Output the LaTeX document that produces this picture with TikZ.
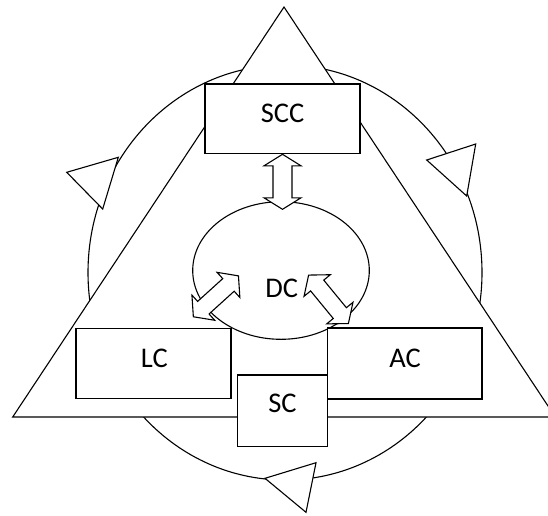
\documentclass[tikz,border=0pt]{standalone}
\usepackage{fontspec}
\setmainfont{Carlito}
\usetikzlibrary{shapes.geometric}
\begin{document}
\begin{tikzpicture}[x=1pt,y=-1pt,
  shp/.style={draw=black, fill=white, line width=1.1pt, line join=miter},
  box/.style={draw=black, fill=white, line width=1.1pt, rectangle, inner sep=0pt},
  lbl/.style={inner sep=0pt, font=\fontsize{28.5}{34}\selectfont},
  blockarrow/.style={draw=black, fill=white, line width=1.1pt, line join=miter}]
\clip (0,0) rectangle (548,515);
\fill[white] (0,0) rectangle (548,515);
% outer cycle
\node[shp, ellipse, inner sep=0pt, minimum width=394pt, minimum height=415pt] (cycle) at (285,272.5) {};
% cycle arrowheads
\draw[shp] (66.7,172.3) -- (118.3,157.3) -- (102.7,209) -- cycle;
\draw[shp] (426.7,160) -- (475.7,144) -- (466.7,196) -- cycle;
\draw[shp] (265,478.3) -- (316,462.7) -- (306,512.3) -- cycle;
% big triangle
\draw[shp] (284,7) -- (12.7,417) -- (555.3,417) -- cycle;
% DC ellipse
\node[shp, ellipse, inner sep=0pt, minimum width=176.6pt, minimum height=137.6pt] (dc) at (281,270.5) {};
% boxes
\node[box, minimum width=155pt, minimum height=69.3pt] (scc) at (282.5,118.65) {};
\node[box, minimum width=155pt, minimum height=70pt] (lc) at (153.5,363.3) {};
\node[box, minimum width=154.7pt, minimum height=71pt] (ac) at (404.65,363.5) {};
\node[box, minimum width=90pt, minimum height=71.7pt] (sc) at (282.3,410.85) {};
% double block arrows
\draw[blockarrow] (282.5,154.3) -- (301,165.8) -- (292,165.8) -- (292,197.8) -- (301,197.8) -- (282.5,209.3) -- (264,197.8) -- (273,197.8) -- (273,165.8) -- (264,165.8) -- cycle;
\begin{scope}[shift={(215.9,296.3)}, rotate=42.2]
\draw[blockarrow] (-30.45,0) -- (-16.95,-17) -- (-16.95,-8.5) -- (16.95,-8.5) -- (16.95,-17) -- (30.45,0) -- (16.95,17) -- (16.95,8.5) -- (-16.95,8.5) -- (-16.95,17) -- cycle;
\end{scope}
\begin{scope}[shift={(328.5,299.3)}, rotate=-50.6]
\draw[blockarrow] (-31.35,0) -- (-17.85,-17) -- (-17.85,-8.5) -- (17.85,-8.5) -- (17.85,-17) -- (31.35,0) -- (17.85,17) -- (17.85,8.5) -- (-17.85,8.5) -- (-17.85,17) -- cycle;
\end{scope}
% labels
\node[lbl] (scct) at (282.5,113) {SCC};
\node[lbl] (dct) at (281.7,288.3) {DC};
\node[lbl] (lct) at (154.3,358.5) {LC};
\node[lbl] (act) at (405,358.5) {AC};
\node[lbl] (sct) at (282.5,403.3) {SC};
\end{tikzpicture}
\end{document}
